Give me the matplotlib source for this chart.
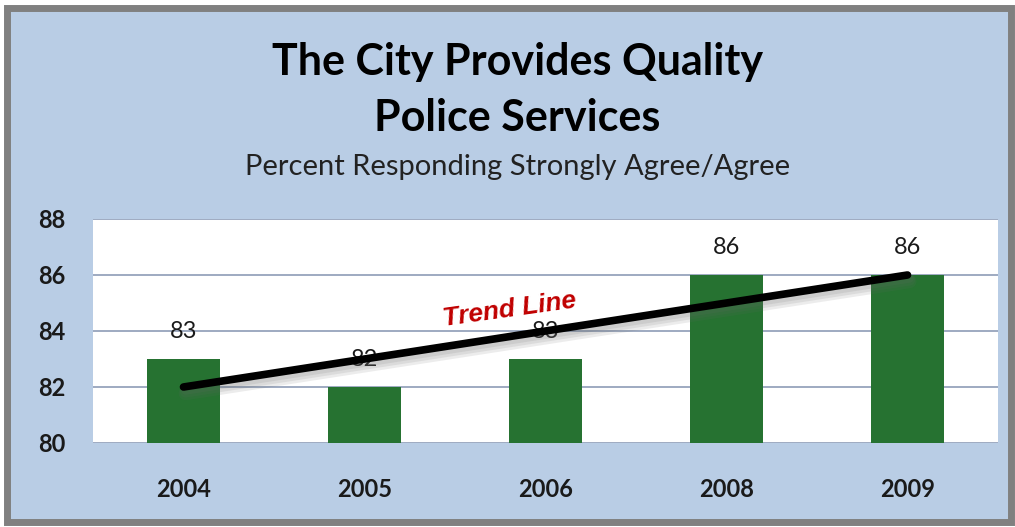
import matplotlib
matplotlib.use("Agg")
import matplotlib.pyplot as plt
import matplotlib.patheffects as pe
from matplotlib.patches import Rectangle

years = ["2004", "2005", "2006", "2008", "2009"]
values = [83, 82, 83, 86, 86]
trend_ends = [82, 86]
y_ticks = [80, 82, 84, 86, 88]

bg = "#B9CDE5"
bar_color = "#267231"
grid_color = "#8D9CB6"

fig = plt.figure(figsize=(10.15, 5.27), dpi=100)
fig.patch.set_facecolor("white")

# chart-area panel with a gray frame
panel = Rectangle((7 / 1015, 5 / 527), 1004 / 1015, 514 / 527, transform=fig.transFigure,
                  facecolor=bg, edgecolor="#808080", linewidth=5, zorder=-5)
fig.patches.append(panel)

ax = fig.add_axes([93 / 1015, 1 - 443 / 527, 905 / 1015, 224 / 527])
ax.set_zorder(2)
ax.set_facecolor("white")

x = list(range(len(years)))
ax.bar(x, values, width=0.4, color=bar_color, zorder=2)
ax.set_xlim(-0.5, len(years) - 0.5)
ax.set_ylim(80, 88)
ax.set_yticks(y_ticks)
ax.set_xticks(x)
ax.set_xticklabels(years)

for sp in ax.spines.values():
    sp.set_visible(False)
ax.grid(axis="y", color=grid_color, linewidth=1.2, zorder=1)
ax.set_axisbelow(True)
ax.tick_params(length=0)
ax.tick_params(axis="y", pad=20)
ax.tick_params(axis="x", pad=25)
for lbl in ax.get_yticklabels() + ax.get_xticklabels():
    lbl.set_fontfamily("Lato")
    lbl.set_fontweight("bold")
    lbl.set_fontsize(17)
    lbl.set_color("#1A1A1A")

for xi, v in zip(x, values):
    ax.annotate(str(v), (xi, v), xytext=(0, 20), textcoords="offset points",
                ha="center", va="center", fontsize=17, family="Lato",
                color="#1A1A1A", zorder=3)

# trend line with a soft drop shadow
shadow = [pe.SimpleLineShadow(offset=(1.5, -2.5 - i), shadow_color="#666666",
                              alpha=0.12, linewidth=6 + 2 * i) for i in range(3)]
ax.plot([x[0], x[-1]], trend_ends, color="black", linewidth=5.5,
        solid_capstyle="round", zorder=4, path_effects=shadow + [pe.Normal()])
ax.text(1.8, 84.75, "Trend Line", rotation=8, ha="center", va="center",
        fontsize=19, fontweight="bold", fontstyle="italic",
        family="Liberation Sans", color="#C00000", zorder=5)

fig.text(0.51, 1 - 62 / 527, "The City Provides Quality", ha="center", va="center",
         fontsize=31, fontweight="bold", family="Lato", color="black")
fig.text(0.51, 1 - 118 / 527, "Police Services", ha="center", va="center",
         fontsize=31, fontweight="bold", family="Lato", color="black")
fig.text(0.51, 1 - 167 / 527, "Percent Responding Strongly Agree/Agree", ha="center",
         va="center", fontsize=21, family="Lato", color="#222222")

fig.savefig("out.png", dpi=100)
